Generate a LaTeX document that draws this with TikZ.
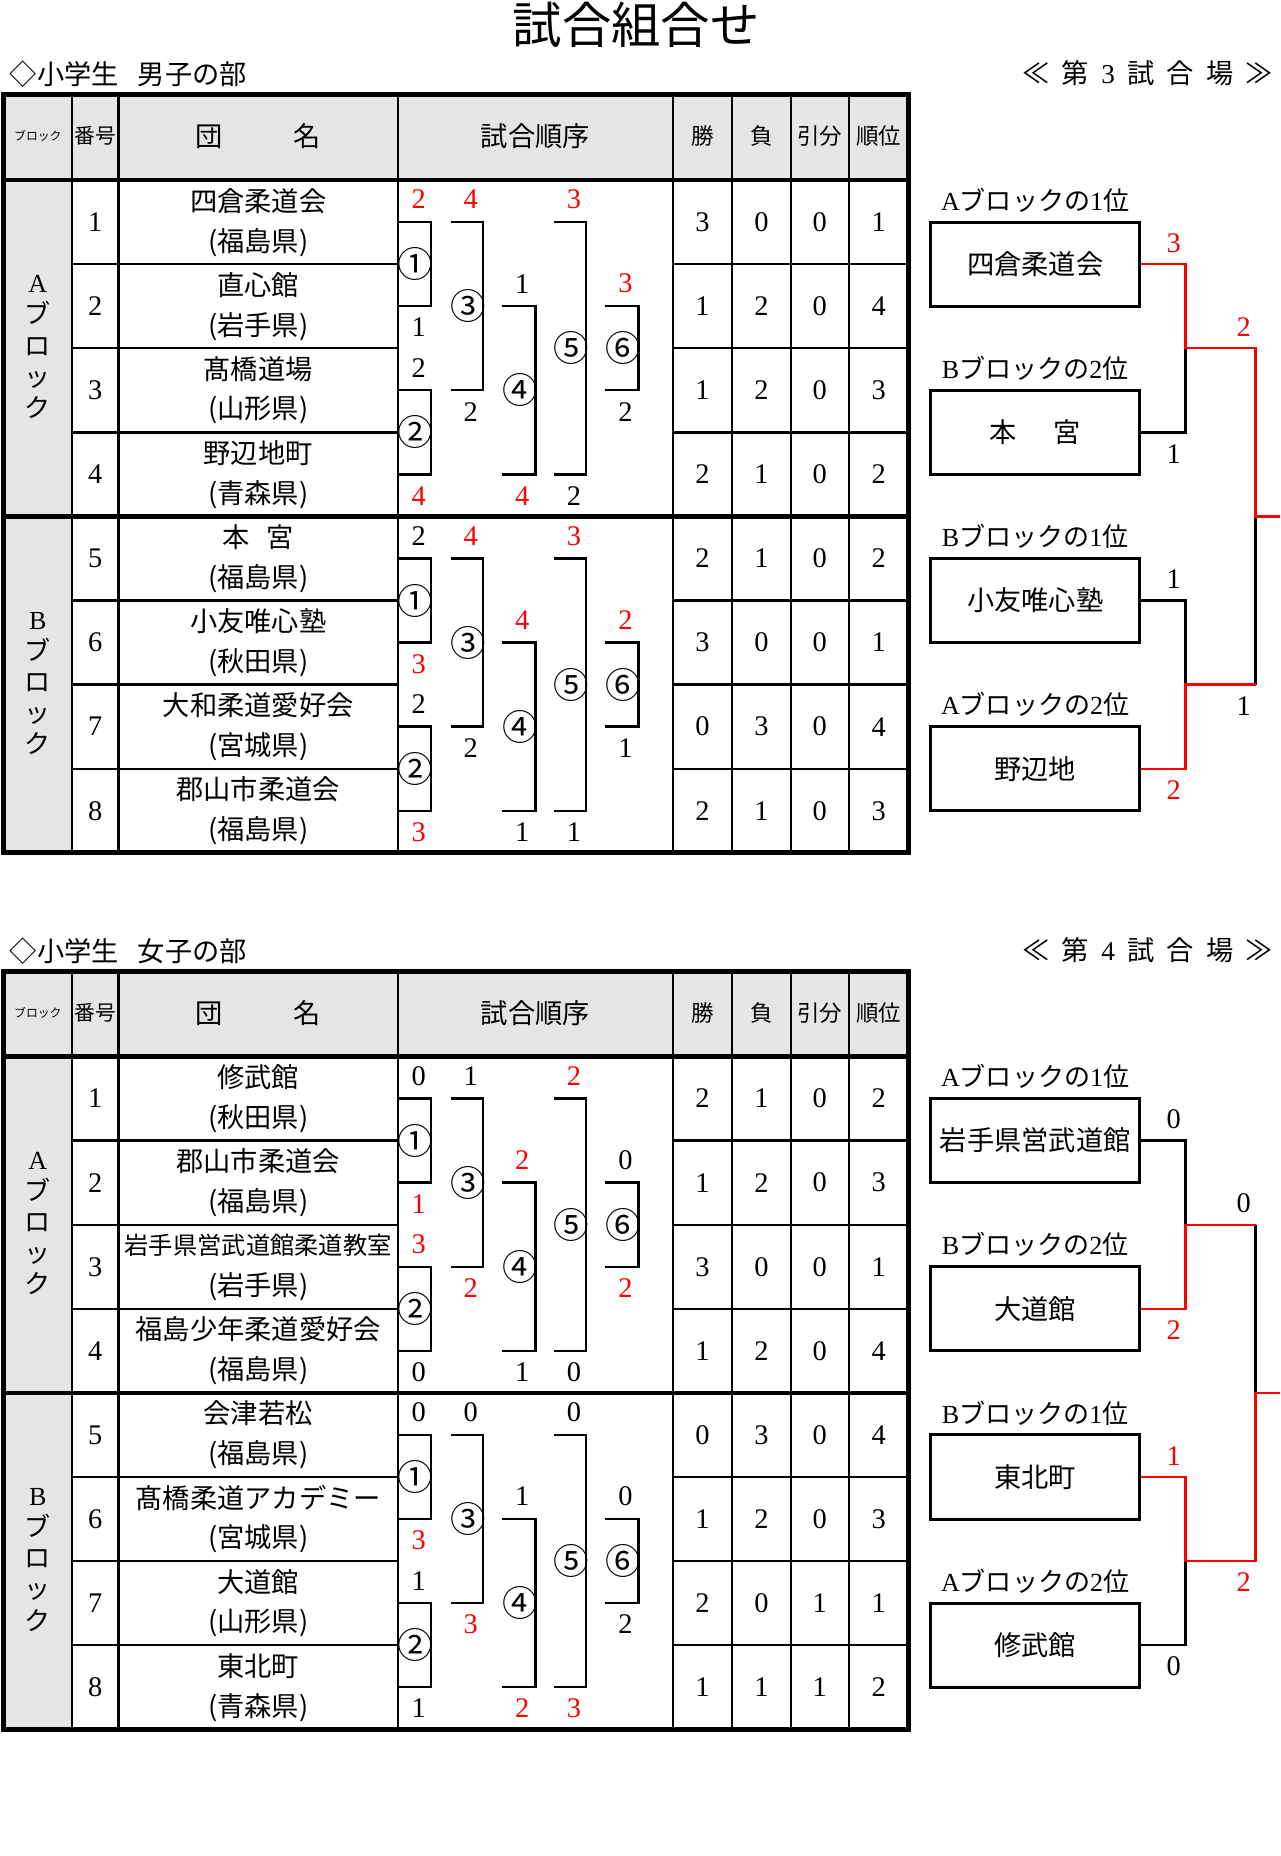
\documentclass[tikz,border=0pt]{standalone}
\usepackage{fontspec}
\setmainfont{Liberation Serif}
\newfontfamily\jp{Noto Sans CJK JP}
\usetikzlibrary{positioning}

\newcommand\fsz[1]{\fontsize{#1}{#1}\selectfont}
\newcommand\circnum[1]{\ifcase#1\or ①\or ②\or ③\or ④\or ⑤\or ⑥\fi}

% table frame, headings and block labels
\newcommand\drawgrid[3]{%
  \node[jpt,anchor=west] (#1sec) at (8,63) {◇小学生\hspace{.7em}#2の部};
  \node[jpt,anchor=east] (#1ven) at (1075,62) {≪\hspace{.45em}第\hspace{.45em}{\rmfamily#3}\hspace{.45em}試\hspace{.45em}合\hspace{.45em}場\hspace{.45em}≫};
  \fill[cell] (3,80) rectangle (767,152) (3,152) rectangle (61,720);
  \foreach \x in {61,100,336,568,618,668,717} \draw[rule] (\x,80) -- (\x,720);
  \foreach \k in {1,2,3,5,6,7}
    \draw[rule] (61,152+71*\k) -- (336,152+71*\k) (568,152+71*\k) -- (767,152+71*\k);
  \draw[frame] (3,152) -- (767,152) (3,436) -- (767,436) (3,80) rectangle (767,720);
  \node[hdr,font=\jp\fsz{6}] (#1h1) at (32,115) {ブロック};
  \node[hdr,font=\jp\fsz{10.5}] (#1h2) at (80.5,115) {番号};
  \node[jpt] (#1h3) at (218,115) {団\hspace{2.6em}名};
  \node[jpt] (#1h4) at (452,115) {試合順序};
  \foreach \x/\t [count=\i from 5] in {593/勝,643/負,692/引分,742/順位}
    \node[hdr] (#1h\i) at (\x,115) {\t};
  \foreach \b/\y in {A/293,B/577}
    \node[blk] (#1blk\b) at (32,\y) {{\rmfamily\b}\\ブ\\ロ\\ッ\\ク};
}

% numbers, names and results of the eight teams
\newcommand\drawteams[2]{%
  \foreach \i/\nm/\pf/\wn/\ls/\dr/\rk in {#2}{
    \pgfmathsetmacro\yc{116.5+71*\i}
    \node[num] (#1no\i) at (80.5,\yc) {\i};
    \node[jpt] (#1nm\i) at (218,\yc-18) {\nm};
    \node[jpt] (#1pf\i) at (218,\yc+17) {(\pf)};
    \foreach \v/\x/\k in {\wn/593/w,\ls/643/l,\dr/692/d,\rk/742/o}
      \node[num] (#1\k\i) at (\x,\yc) {\v};
  }}

% the six bouts of one block: top score/colour/bottom score/colour
\newcommand\drawbouts[3]{%
  \foreach \st/\ct/\sb/\cb [count=\n] in {#3}{
    \pgfmathsetmacro\xl{{337,337,381,424,468,511}[\n-1]}
    \pgfmathsetmacro\xr{{364,364,408,452,495,539}[\n-1]}
    \pgfmathsetmacro\ta{{1,3,1,2,1,2}[\n-1]}
    \pgfmathsetmacro\tb{{2,4,3,4,4,3}[\n-1]}
    \pgfmathsetmacro\ya{#2-35.5+71*\ta}
    \pgfmathsetmacro\yb{#2-35.5+71*\tb}
    \draw[tie] (\xl,\ya) -| (\xr,\yb) -- (\xl,\yb);
    \node[circ] (#1c\n) at (\xr-13,{(\ya+\yb)/2}) {\circnum{\n}};
    \node[num,text=\ct] (#1t\n) at ({(\xl+\xr)/2+3},\ya-19) {\st};
    \node[num,text=\cb] (#1b\n) at ({(\xl+\xr)/2+3},\yb+18) {\sb};
  }}

% four seeded boxes of the final bracket
\newcommand\drawseeds[5]{%
  \foreach \y/\nm/\b/\p [count=\i] in {223/{#2}/A/1,365/{#3}/B/2,507/{#4}/B/1,649/{#5}/A/2}{
    \node[seed] (#1seed\i) at (874,\y) {\nm};
    \node[rank,above=4pt of #1seed\i] (#1rank\i) {{\rmfamily\b}ブロックの{\rmfamily\p}位};
  }
  \coordinate (#1j1) at (1001,294);
  \coordinate (#1j2) at (1001,578);
  \coordinate (#1k1) at (1060,294);
  \coordinate (#1k2) at (1060,578);
  \coordinate (#1k) at (1060,436);
  \coordinate (#1e) at (1081,436);
}

\begin{document}
\begin{tikzpicture}[x=0.6pt,y=-0.6pt,
  jpt/.style={font=\jp\fsz{13.8},inner sep=0pt},
  num/.style={font=\fsz{14.4},inner sep=0pt},
  hdr/.style={font=\jp\fsz{11.4},inner sep=0pt},
  circ/.style={font=\jp\fsz{18},inner sep=0pt},
  blk/.style={font=\jp\fontsize{13.2}{15.75}\selectfont,align=center,inner sep=0pt},
  rank/.style={font=\jp\fsz{13.2},inner sep=0pt},
  seed/.style={draw,line width=1.5pt,minimum width=105.6pt,minimum height=42.6pt,
    font=\jp\fsz{13.8},inner sep=0pt},
  cell/.style={fill=black!10},
  rule/.style={line width=1.2pt},
  frame/.style={line width=2.4pt},
  tie/.style={line width=1.2pt},
  win/.style={tie,red}]
\fill[white] (0,0) rectangle (1081,1567);
\useasboundingbox (0,0) rectangle (1081,1567);
\node[font=\jp\fsz{25},inner sep=0pt] (title) at (537,21) {試合組合せ};

% boys
\drawgrid{M}{男子}{3}
\drawteams{M}{1/四倉柔道会/福島県/3/0/0/1,2/直心館/岩手県/1/2/0/4,
  3/髙橋道場/山形県/1/2/0/3,4/野辺地町/青森県/2/1/0/2,
  5/本\hspace{.6em}宮/福島県/2/1/0/2,6/小友唯心塾/秋田県/3/0/0/1,
  7/大和柔道愛好会/宮城県/0/3/0/4,8/郡山市柔道会/福島県/2/1/0/3}
\drawbouts{MA}{152}{2/red/1/black,2/black/4/red,4/red/2/black,
  1/black/4/red,3/red/2/black,3/red/2/black}
\drawbouts{MB}{436}{2/black/3/red,2/black/3/red,4/red/2/black,
  4/red/1/black,3/red/1/black,2/red/1/black}
\drawseeds{M}{四倉柔道会}{本\hspace{1.35em}宮}{小友唯心塾}{野辺地}
\draw[tie] (Mseed2.east) -| (Mj1) (Mseed3.east) -| (Mj2) (Mk2) -- (Mk);
\draw[win] (Mseed1.east) -| (Mj1) -- (Mk1) -- (Mk) -- (Me)
  (Mseed4.east) -| (Mj2) -- (Mk2);
\node[num,text=red] (Mf1) at (991,205) {3};
\node[num] (Mf2) at (991,383) {1};
\node[num] (Mf3) at (991,489) {1};
\node[num,text=red] (Mf4) at (991,667) {2};
\node[num,text=red] (Mf5) at (1050,276) {2};
\node[num] (Mf6) at (1050,596) {1};

% girls
\begin{scope}[yshift=-444pt]
\drawgrid{W}{女子}{4}
\drawteams{W}{1/修武館/秋田県/2/1/0/2,2/郡山市柔道会/福島県/1/2/0/3,
  3/{\fsz{12.3}岩手県営武道館柔道教室}/岩手県/3/0/0/1,4/福島少年柔道愛好会/福島県/1/2/0/4,
  5/会津若松/福島県/0/3/0/4,6/髙橋柔道アカデミー/宮城県/1/2/0/3,
  7/大道館/山形県/2/0/1/1,8/東北町/青森県/1/1/1/2}
\drawbouts{WA}{152}{0/black/1/red,3/red/0/black,1/black/2/red,
  2/red/1/black,2/red/0/black,0/black/2/red}
\drawbouts{WB}{436}{0/black/3/red,1/black/1/black,0/black/3/red,
  1/black/2/red,0/black/3/red,0/black/2/black}
\drawseeds{W}{岩手県営武道館}{大道館}{東北町}{修武館}
\draw[tie] (Wseed1.east) -| (Wj1) (Wseed4.east) -| (Wj2) (Wk1) -- (Wk);
\draw[win] (Wseed2.east) -| (Wj1) -- (Wk1)
  (Wseed3.east) -| (Wj2) -- (Wk2) -- (Wk) -- (We);
\node[num] (Wf1) at (991,205) {0};
\node[num,text=red] (Wf2) at (991,383) {2};
\node[num,text=red] (Wf3) at (991,489) {1};
\node[num] (Wf4) at (991,667) {0};
\node[num] (Wf5) at (1050,276) {0};
\node[num,text=red] (Wf6) at (1050,596) {2};
\end{scope}
\end{tikzpicture}
\end{document}
